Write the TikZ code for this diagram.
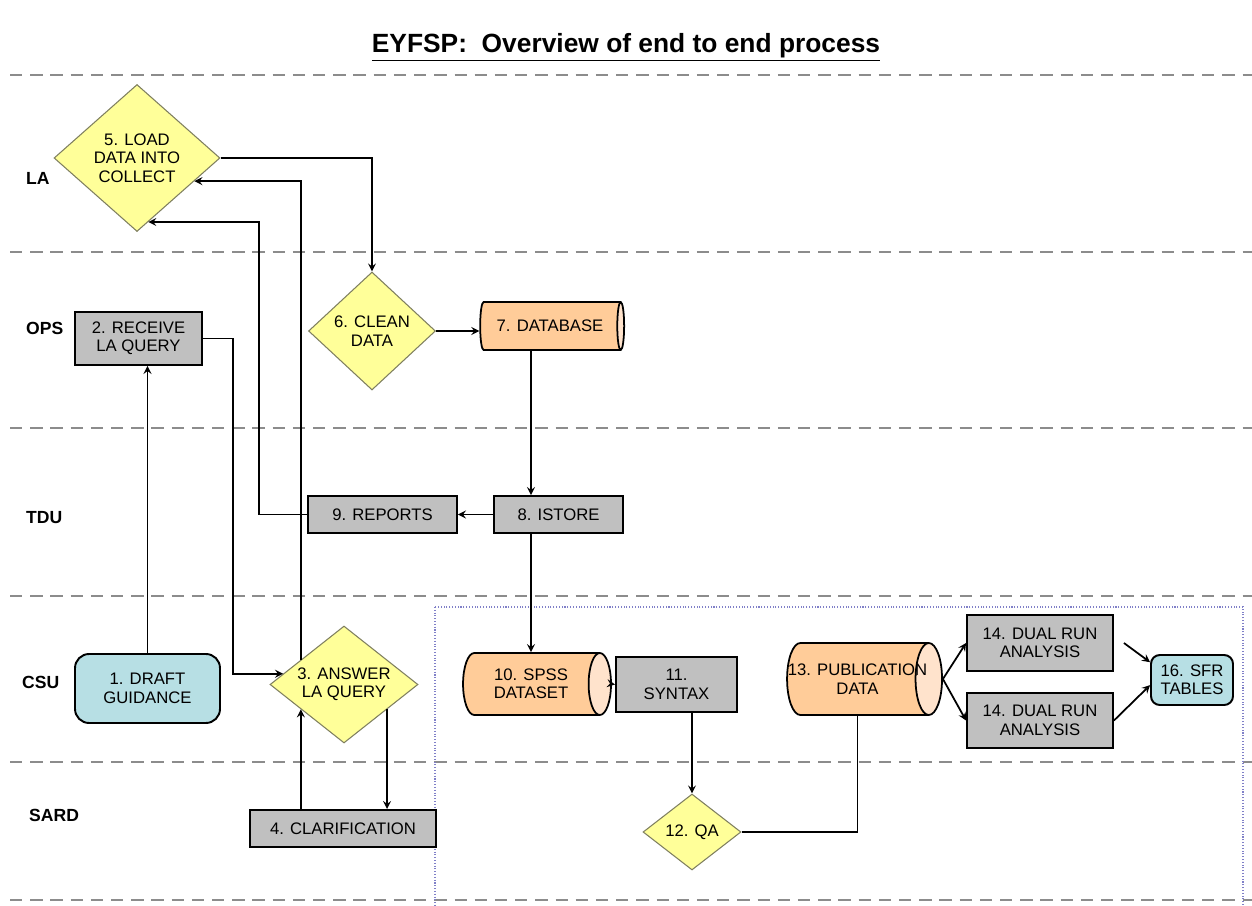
\documentclass[tikz,border=0pt]{standalone}
\usepackage{fontspec}
\setmainfont{Liberation Sans}
\usepackage{tikz}
\usetikzlibrary{shapes.geometric}
\definecolor{diafill}{HTML}{FFFF99}
\definecolor{diaedge}{HTML}{7F7F5F}
\definecolor{boxfill}{HTML}{C0C0C0}
\definecolor{cylbody}{HTML}{FFCC99}
\definecolor{cylend}{HTML}{FFE3CC}
\definecolor{tealfill}{HTML}{B7DFE4}
\definecolor{lanegray}{HTML}{8C8C8C}
\definecolor{framecol}{HTML}{8080C8}
\tikzset{
  txt/.style={font=\fontsize{9.5}{10.5}\selectfont, align=center, text=black},
  proc/.style={txt, rectangle, draw=black, line width=1.1pt, fill=boxfill, inner sep=0pt},
  roundproc/.style={proc, fill=tealfill, rounded corners=5pt},
  dia/.style={txt, diamond, draw=diaedge, line width=0.6pt, fill=diafill, inner sep=-4pt},
  store/.style={txt, cylinder, draw=black, line width=1pt, cylinder uses custom fill, cylinder body fill=cylbody, cylinder end fill=cylend, inner xsep=-8pt, inner ysep=0pt},
  lane/.style={font=\bfseries\fontsize{10}{12}\selectfont, anchor=west},
  arr/.style={line width=1pt, -stealth},
}
\begin{document}
\begin{tikzpicture}[x=0.02cm,y=-0.02cm]
\useasboundingbox (0,0) rectangle (1252,906);
\node[font=\bfseries\fontsize{15}{18}\selectfont] (title) at (626,47) {\underline{EYFSP:\ \ Overview of end to end process}};
\foreach \y in {75,252,428,596,762,900}
  \draw[lanegray, line width=1.2pt, dash pattern=on 7pt off 4.5pt] (10,\y) -- (1252,\y);
\draw[framecol, densely dotted, line width=0.6pt] (435,607) rectangle (1243,910);
\node[lane] (laneLA) at (20,178) {LA};
\node[lane] (laneOPS) at (20,328) {OPS};
\node[lane] (laneTDU) at (20,518) {TDU};
\node[lane] (laneCSU) at (16,682) {CSU};
\node[lane] (laneSARD) at (23,815) {SARD};
\node[dia, minimum width=3.32cm, minimum height=2.94cm] (n5) at (137,158) {5. LOAD\\DATA INTO\\COLLECT};
\node[proc, minimum width=2.54cm, minimum height=1.06cm] (n2) at (138.5,338.5) {2. RECEIVE\\LA QUERY};
\node[dia, minimum width=2.54cm, minimum height=2.36cm] (n6) at (372,331) {6. CLEAN\\DATA};
\node[store, minimum height=2.88cm, minimum width=0.96cm, aspect=0.58] (n7) at (550,326) {7. DATABASE};
\node[proc, minimum width=2.58cm, minimum height=0.74cm] (n8) at (558.5,514.5) {8. ISTORE};
\node[proc, minimum width=2.98cm, minimum height=0.74cm] (n9) at (382.5,514.5) {9. REPORTS};
\node[roundproc, minimum width=2.90cm, minimum height=1.38cm, rounded corners=8pt] (n1) at (147.5,688.5) {1. DRAFT\\GUIDANCE};
\node[dia, minimum width=2.96cm, minimum height=2.34cm] (n3) at (344,684.5) {3. ANSWER\\LA QUERY};
\node[proc, minimum width=3.72cm, minimum height=0.74cm] (n4) at (343,828.5) {4. CLARIFICATION};
\node[store, minimum height=2.96cm, minimum width=1.24cm, aspect=0.74] (n10) at (531,684) {10. SPSS\\DATASET};
\node[proc, minimum width=2.42cm, minimum height=1.10cm] (n11) at (676.5,684.5) {11.\\SYNTAX};
\node[dia, minimum width=1.96cm, minimum height=1.52cm] (n12) at (692,832) {12. QA};
\node[store, minimum height=3.10cm, minimum width=1.44cm, aspect=0.88] (n13) at (857.5,679) {13. PUBLICATION\\DATA};
\node[proc, minimum width=2.92cm, minimum height=1.12cm] (n14a) at (1040,643) {14. DUAL RUN\\ANALYSIS};
\node[proc, minimum width=2.92cm, minimum height=1.10cm] (n14b) at (1040,720.5) {14. DUAL RUN\\ANALYSIS};
\node[roundproc, minimum width=1.64cm, minimum height=1.00cm] (n16) at (1192,680) {16. SFR\\TABLES};
\draw[arr] (n1.north) -- (n1.north |- n2.south);
\draw[arr] (n2.east) -- ++(30,0) |- (n3.170);
\draw[arr] (n3.150) |- (n5.-22);
\draw[arr] (n9.west) -- ++(-48,0) |- (n5.-80);
\draw[arr] (n3.210 |- n4.north) -- (n3.210);
\draw[arr] (n3.-30) -- (n3.-30 |- n4.north);
\draw[arr] (n5.east) -| (n6.north);
\draw[arr] (n6.east) -- (n6.east -| n7.west);
\draw[arr] (n10.north |- n7.south) -- (n10.north |- n8.north);
\draw[arr] (n8.west) -- (n9.east);
\draw[arr] (n10.north |- n8.south) -- (n10.north);
\draw[arr] (n10.east) -- (n11.west);
\draw[arr] (n12.north |- n11.south) -- (n12.north);
\draw[line width=1pt] (n12.east) -| (n13.south);
\draw[arr] (n13.east) -- (n14a.west);
\draw[arr] (n13.east) -- (n14b.west);
\draw[arr] ([xshift=0.2cm]n14a.east) -- (n16.157);
\draw[arr] (n14b.east) -- (n16.187);
\end{tikzpicture}
\end{document}
